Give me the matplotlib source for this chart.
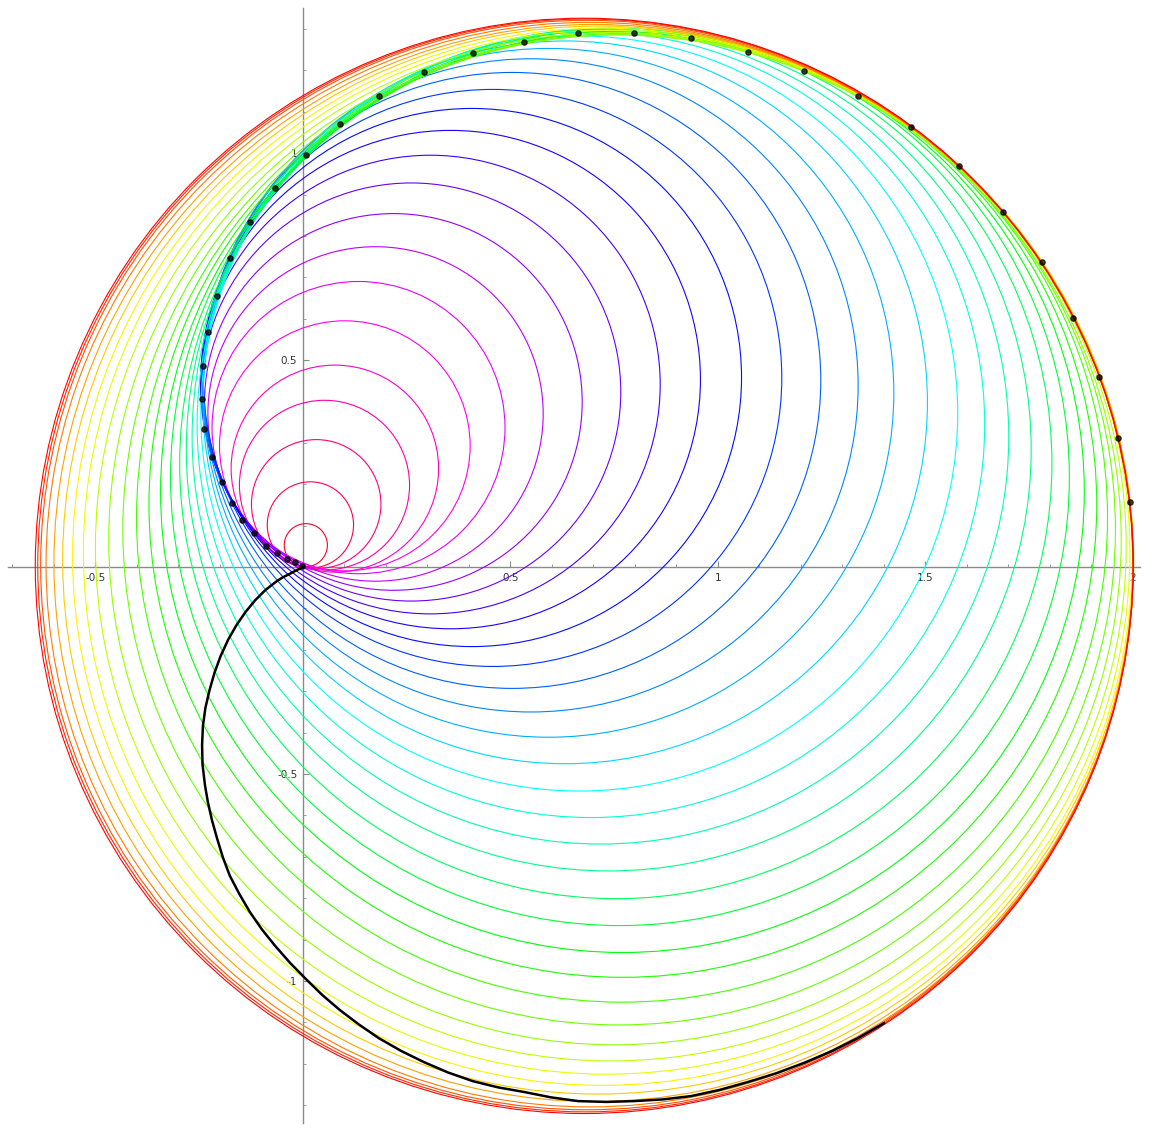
import colorsys

import matplotlib
matplotlib.use("Agg")
import matplotlib.pyplot as plt
from matplotlib.patches import Circle
from matplotlib.ticker import MultipleLocator, FuncFormatter

# Circles (centre x, centre y, radius), smallest first
circle_cx = [0.007, 0.018, 0.032, 0.052, 0.077, 0.101, 0.134, 0.175, 0.218, 0.261,
             0.307, 0.356, 0.407, 0.457, 0.504, 0.549, 0.592, 0.632, 0.666, 0.694,
             0.717, 0.737, 0.754, 0.764, 0.770, 0.771, 0.769, 0.762, 0.752, 0.742,
             0.732, 0.722, 0.711, 0.701, 0.691, 0.684, 0.681, 0.678]
circle_cy = [0.053, 0.102, 0.152, 0.198, 0.238, 0.293, 0.337, 0.370, 0.399, 0.423,
             0.441, 0.453, 0.458, 0.457, 0.451, 0.439, 0.421, 0.398, 0.371, 0.344,
             0.315, 0.284, 0.250, 0.217, 0.182, 0.151, 0.119, 0.090, 0.066, 0.049,
             0.036, 0.025, 0.017, 0.010, 0.006, 0.005, 0.004, 0.003]
circle_r = [0.052, 0.104, 0.156, 0.205, 0.250, 0.302, 0.353, 0.404, 0.455, 0.505,
            0.554, 0.602, 0.650, 0.697, 0.744, 0.789, 0.832, 0.873, 0.912, 0.949,
            0.984, 1.018, 1.051, 1.083, 1.113, 1.142, 1.170, 1.196, 1.220, 1.242,
            1.261, 1.277, 1.290, 1.301, 1.310, 1.316, 1.320, 1.323]

# Points where each circle touches the spiral
dot_x = [-0.002, -0.019, -0.039, -0.063, -0.089, -0.118, -0.147, -0.171, -0.195, -0.219,
         -0.239, -0.243, -0.241, -0.229, -0.207, -0.176, -0.128, -0.067, 0.007, 0.089,
         0.183, 0.292, 0.410, 0.533, 0.663, 0.798, 0.935, 1.072, 1.207, 1.337,
         1.465, 1.581, 1.687, 1.781, 1.855, 1.918, 1.964, 1.993]
dot_y = [0.002, 0.012, 0.019, 0.034, 0.051, 0.082, 0.114, 0.155, 0.205, 0.266,
         0.333, 0.406, 0.486, 0.568, 0.655, 0.746, 0.833, 0.915, 0.995, 1.070,
         1.138, 1.196, 1.242, 1.268, 1.290, 1.290, 1.278, 1.244, 1.198, 1.138,
         1.063, 0.969, 0.857, 0.737, 0.601, 0.459, 0.312, 0.157]

# Lower black curve
curve_x = [0.0, -0.010, -0.022, -0.035, -0.049, -0.063, -0.090, -0.115, -0.138, -0.160,
           -0.180, -0.198, -0.213, -0.225, -0.235, -0.241, -0.243, -0.242, -0.236, -0.229,
           -0.219, -0.207, -0.193, -0.176, -0.153, -0.128, -0.099, -0.067, -0.031, 0.007,
           0.047, 0.089, 0.135, 0.183, 0.237, 0.292, 0.350, 0.410, 0.471, 0.533,
           0.598, 0.663, 0.731, 0.798, 0.867, 0.935, 1.004, 1.072, 1.140, 1.207,
           1.273, 1.337, 1.400]
curve_y = [0.0, -0.005, -0.011, -0.018, -0.025, -0.034, -0.055, -0.080, -0.108, -0.140,
           -0.175, -0.214, -0.255, -0.297, -0.340, -0.384, -0.430, -0.476, -0.527, -0.568,
           -0.612, -0.655, -0.701, -0.746, -0.790, -0.833, -0.875, -0.915, -0.956, -0.995,
           -1.034, -1.070, -1.105, -1.138, -1.169, -1.196, -1.221, -1.242, -1.257, -1.268,
           -1.281, -1.290, -1.292, -1.290, -1.286, -1.278, -1.263, -1.244, -1.223, -1.198,
           -1.170, -1.138, -1.102]

n = len(circle_r)

fig = plt.figure(figsize=(11.54, 11.28), dpi=100, facecolor="white")
ax = fig.add_axes([0, 0, 1, 1])
ax.set_xlim(-0.730, 2.051)
ax.set_ylim(-1.355, 1.370)

# Sage-like axes through the origin
for side in ("top", "right"):
    ax.spines[side].set_visible(False)
ax.spines["left"].set_position(("data", 0))
ax.spines["bottom"].set_position(("data", 0))
ax.spines["bottom"].set_bounds(-0.711, 2.017)
ax.spines["left"].set_bounds(-1.343, 1.350)
for side in ("left", "bottom"):
    ax.spines[side].set_color("#8a8a8a")
    ax.spines[side].set_linewidth(1.0)
    ax.spines[side].set_zorder(0.5)

fmt = FuncFormatter(lambda v, pos: "" if abs(v) < 1e-9 else f"{v:g}")
for axis in (ax.xaxis, ax.yaxis):
    axis.set_major_locator(MultipleLocator(0.5))
    axis.set_minor_locator(MultipleLocator(0.1))
    axis.set_major_formatter(fmt)
ax.tick_params(which="major", direction="in", length=4, width=0.8,
               color="#8a8a8a", labelsize=7.5, labelcolor="#333333")
ax.tick_params(which="minor", direction="in", length=2, width=0.6, color="#8a8a8a")
ax.tick_params(axis="x", pad=4)
ax.tick_params(axis="y", pad=4)

for k in range(n):
    hue = (n - 1 - k) / n
    col = colorsys.hsv_to_rgb(hue, 1.0, 1.0)
    ax.add_patch(Circle((circle_cx[k], circle_cy[k]), circle_r[k], fill=False,
                        edgecolor=col, linewidth=0.8, zorder=2))

ax.plot(dot_x, dot_y, "o", color="black", ms=3.8, alpha=0.75, zorder=2.6)
ax.plot(curve_x, curve_y, color="black", linewidth=1.8, zorder=3)

fig.savefig("out.png", dpi=100, facecolor="white")
